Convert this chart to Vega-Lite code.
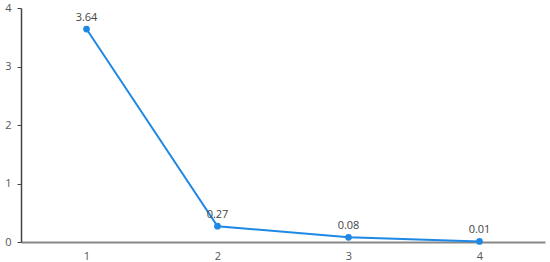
{
  "$schema": "https://vega.github.io/schema/vega-lite/v6.json",
  "width": 524,
  "height": 234,
  "autosize": {"type": "none"},
  "padding": {"left": 21, "top": 8, "right": 5, "bottom": 20},
  "background": "white",
  "config": {"view": {"stroke": null}, "font": "Open Sans"},
  "data": {"values": [
    {"x": "1", "y": 3.64},
    {"x": "2", "y": 0.27},
    {"x": "3", "y": 0.08},
    {"x": "4", "y": 0.01}
  ]},
  "encoding": {
    "x": {"field": "x", "type": "ordinal", "scale": {"paddingInner": 0, "paddingOuter": 0}, "axis": {"title": null, "labelAngle": 0, "ticks": false, "domainColor": "#888888", "domainWidth": 2, "labelColor": "#555555", "labelFontSize": 11, "labelPadding": 8, "labelFont": "Open Sans"}},
    "y": {"field": "y", "type": "quantitative", "scale": {"domain": [0, 4]}, "axis": {"title": null, "values": [0, 1, 2, 3, 4], "grid": false, "domainColor": "#444444", "domainWidth": 1.5, "tickColor": "#444444", "tickSize": 4, "labelColor": "#555555", "labelFontSize": 11, "labelPadding": 6, "labelFont": "Open Sans"}}
  },
  "layer": [
    {"mark": {"type": "line", "color": "#1e88e5", "strokeWidth": 2}},
    {"mark": {"type": "point", "filled": true, "color": "#1e88e5", "size": 45, "opacity": 1}},
    {"mark": {"type": "text", "dy": -11, "fontSize": 11, "color": "#444444", "font": "Open Sans"}, "encoding": {"text": {"field": "y", "type": "quantitative", "format": ".2f"}}}
  ]
}
